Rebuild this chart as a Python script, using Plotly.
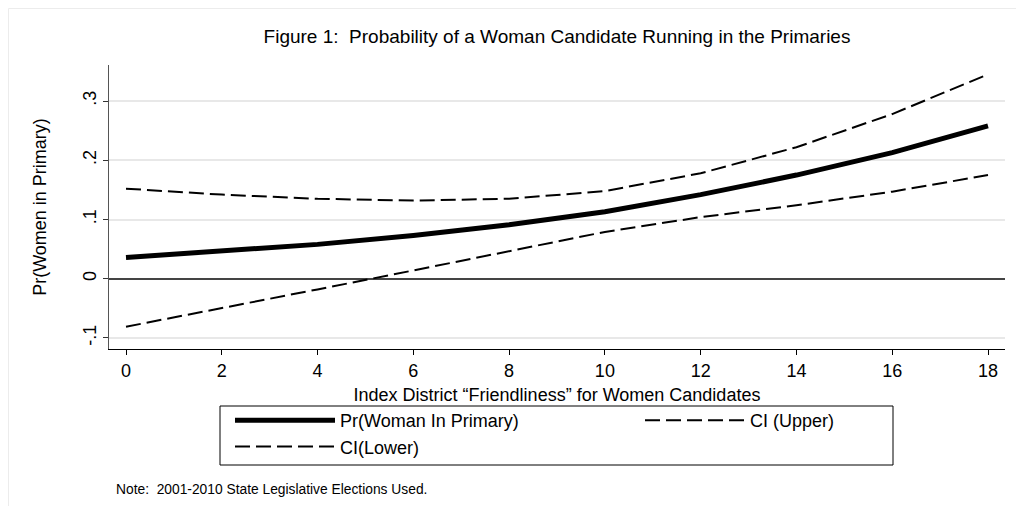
import plotly.graph_objects as go

x_vals = [0, 2, 4, 6, 8, 10, 12, 14, 16, 18]
pr_woman = [0.036, 0.047, 0.058, 0.073, 0.091, 0.113, 0.142, 0.175, 0.213, 0.258]
ci_upper = [0.152, 0.142, 0.135, 0.132, 0.135, 0.148, 0.178, 0.222, 0.278, 0.345]
ci_lower = [-0.081, -0.050, -0.018, 0.014, 0.047, 0.079, 0.104, 0.124, 0.147, 0.175]

x_ticks = [0, 2, 4, 6, 8, 10, 12, 14, 16, 18]
y_ticks = [-0.1, 0, 0.1, 0.2, 0.3]
y_tick_labels = ["-.1", "0", ".1", ".2", ".3"]

FONT = "Arial, 'Liberation Sans', sans-serif"

# page body has an 8px offset; work in reference pixel coords
def px(xr):
    return (xr - 109) / 896

def py(yr):
    return (349 - yr) / 284

fig = go.Figure()
fig.add_trace(go.Scatter(x=x_vals, y=pr_woman, mode="lines", name="Pr(Woman In Primary)",
                         line=dict(color="black", width=5)))
fig.add_trace(go.Scatter(x=x_vals, y=ci_upper, mode="lines", name="CI (Upper)",
                         line=dict(color="black", width=2, dash="15px,6px")))
fig.add_trace(go.Scatter(x=x_vals, y=ci_lower, mode="lines", name="CI(Lower)",
                         line=dict(color="black", width=2, dash="15px,6px")))

fig.update_layout(
    width=1016, height=498,
    margin=dict(l=101, r=19, t=57, b=157, autoexpand=False),
    paper_bgcolor="white", plot_bgcolor="white",
    font=dict(family=FONT, color="black", size=18),
    title=dict(text="Figure 1:  Probability of a Woman Candidate Running in the Primaries",
               x=0.5, xref="paper", xanchor="center", y=1 - 28 / 498, yanchor="middle",
               font=dict(size=19, family=FONT, color="black")),
    showlegend=True,
    legend=dict(orientation="h", x=px(230), xanchor="left",
                y=py(402), yanchor="top",
                borderwidth=0, bgcolor="rgba(0,0,0,0)",
                entrywidth=295, entrywidthmode="pixels", itemwidth=100,
                font=dict(size=18, family=FONT, color="black"),
                traceorder="normal"),
    xaxis=dict(range=[-0.355, 18.355], tickvals=x_ticks, ticks="outside", ticklen=5,
               tickcolor="black", showline=True, linecolor="black", linewidth=1,
               showgrid=False, zeroline=False, mirror=False,
               tickfont=dict(size=18, family=FONT, color="black"),
               title=dict(text="Index District \u201cFriendliness\u201d for Women Candidates",
                          font=dict(size=18, family=FONT, color="black"), standoff=8)),
    yaxis=dict(range=[-0.1186, 0.3608], tickvals=y_ticks, ticktext=y_tick_labels,
               ticks="outside", ticklen=5, tickcolor="#333", tickangle=-90,
               showline=True, linecolor="#555", linewidth=1.2,
               showgrid=True, gridcolor="#e8e8e8", gridwidth=2,
               zeroline=True, zerolinecolor="#444", zerolinewidth=2,
               tickfont=dict(size=18, family=FONT, color="black"),
               title=dict(text="Pr(Women in Primary)",
                          font=dict(size=18, family=FONT, color="black"), standoff=28)),
)

fig.add_annotation(text="Note:  2001-2010 State Legislative Elections Used.",
                   xref="paper", yref="paper", x=px(114), y=py(490),
                   xanchor="left", yanchor="middle", showarrow=False,
                   font=dict(size=13.8, family=FONT, color="black"))

# outer frame
fig.add_shape(type="rect", xref="paper", yref="paper",
              x0=px(8.5), x1=px(1030), y0=py(512), y1=py(8.5),
              line=dict(color="#ececec", width=1), fillcolor="rgba(0,0,0,0)", layer="below")
# legend box
fig.add_shape(type="rect", xref="paper", yref="paper",
              x0=px(220), x1=px(893), y0=py(465), y1=py(406),
              line=dict(color="black", width=1), fillcolor="rgba(0,0,0,0)", layer="below")

fig.write_html("out.html")
